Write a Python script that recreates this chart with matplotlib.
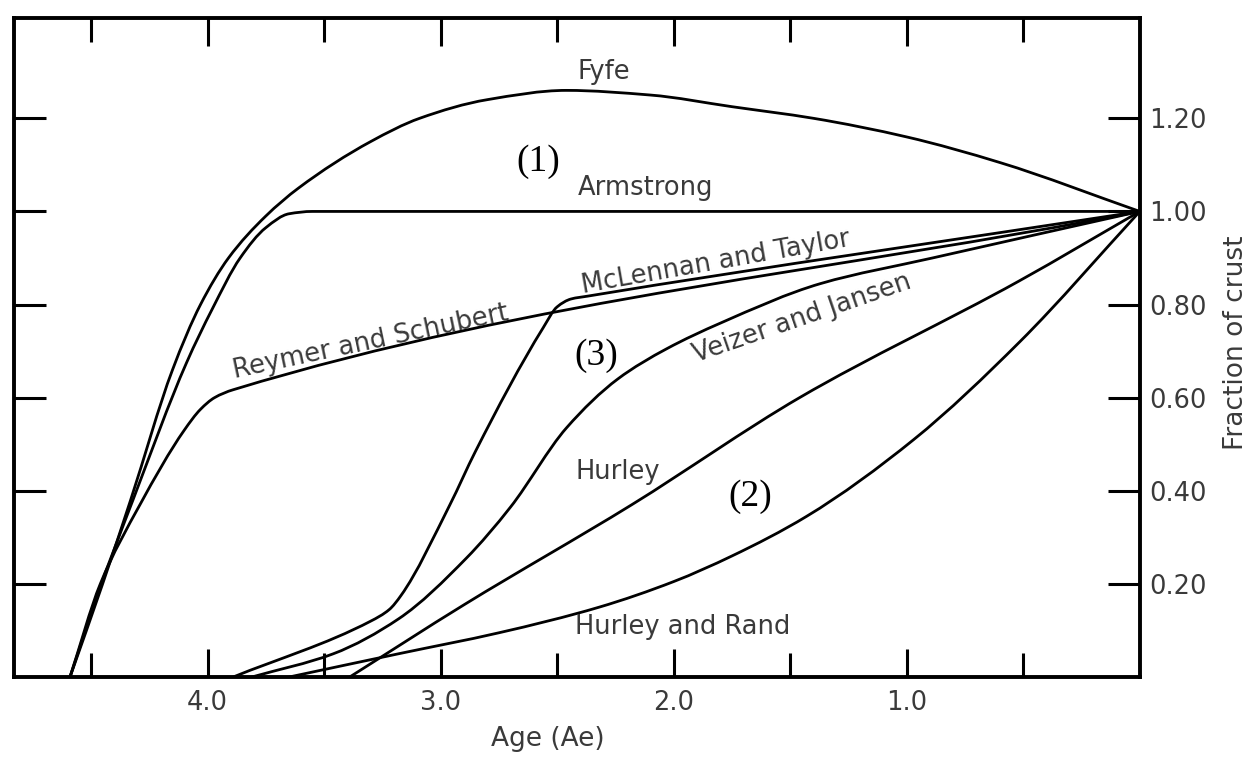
import matplotlib
matplotlib.use('Agg')
import matplotlib.pyplot as plt
import numpy as np
from matplotlib.path import Path
from matplotlib.patches import PathPatch
from matplotlib.ticker import FixedLocator

# crust growth models: age (Ae) and fraction of present crust
fyfe_age = [4.59, 4.45, 4.33, 4.15, 4.03, 3.91, 3.75, 3.61, 3.30, 3.09, 2.80, 2.46, 2.10, 1.75, 1.40, 1.00, 0.60, 0.0]
fyfe_frac = [0.0, 0.20, 0.38, 0.66, 0.80, 0.90, 0.99, 1.05, 1.15, 1.20, 1.24, 1.26, 1.25, 1.225, 1.20, 1.16, 1.105, 1.0]

armstrong_age = [4.59, 4.47, 4.32, 4.09, 3.98, 3.86, 3.75, 3.65, 3.55, 0.0]
armstrong_frac = [0.0, 0.18, 0.38, 0.675, 0.79, 0.90, 0.965, 0.995, 1.0, 1.0]

reymer_age = [4.59, 4.46, 4.29, 4.10, 4.03, 3.97, 3.89, 0.0]
reymer_frac = [0.0, 0.20, 0.37, 0.53, 0.575, 0.60, 0.617, 1.0]

mclennan_age = [3.89, 3.30, 3.22, 3.17, 2.96, 2.85, 2.56, 2.50, 2.44, 2.37, 0.0]
mclennan_frac = [0.0, 0.12, 0.145, 0.175, 0.37, 0.485, 0.75, 0.795, 0.812, 0.818, 1.0]

veizer_age = [3.81, 3.46, 3.18, 2.89, 2.70, 2.46, 2.24, 2.03, 1.80, 1.37, 0.89, 0.0]
veizer_frac = [0.0, 0.05, 0.125, 0.255, 0.365, 0.535, 0.64, 0.705, 0.76, 0.845, 0.90, 1.0]

hurley_age = [3.39, 2.90, 2.18, 1.46, 0.52, 0.0]
hurley_frac = [0.0, 0.155, 0.37, 0.60, 0.85, 1.0]

rand_age = [3.65, 3.18, 2.75, 2.32, 2.00, 1.75, 1.43, 0.97, 0.515, 0.0]
rand_frac = [0.0, 0.05, 0.095, 0.15, 0.205, 0.26, 0.345, 0.51, 0.72, 1.0]

ytick_vals = [0.2, 0.4, 0.6, 0.8, 1.0, 1.2]
ytick_labels = ['0.20', '0.40', '0.60', '0.80', '1.00', '1.20']
xtick_vals = [4.0, 3.0, 2.0, 1.0]
xtick_labels = ['4.0', '3.0', '2.0', '1.0']


def smooth_path(xs, ys):
    # monotone cubic (pchip) through the points, drawn as bezier segments
    x = np.asarray(xs, float)[::-1]
    y = np.asarray(ys, float)[::-1]
    h = np.diff(x)
    d = np.diff(y) / h
    n = len(x)
    m = np.zeros(n)
    m[0], m[-1] = d[0], d[-1]
    for k in range(1, n - 1):
        if d[k - 1] * d[k] > 0:
            w1 = 2 * h[k] + h[k - 1]
            w2 = h[k] + 2 * h[k - 1]
            m[k] = (w1 + w2) / (w1 / d[k - 1] + w2 / d[k])
    verts = [(x[0], y[0])]
    codes = [Path.MOVETO]
    for k in range(n - 1):
        verts += [(x[k] + h[k] / 3, y[k] + m[k] * h[k] / 3),
                  (x[k + 1] - h[k] / 3, y[k + 1] - m[k + 1] * h[k] / 3),
                  (x[k + 1], y[k + 1])]
        codes += [Path.CURVE4] * 3
    return Path(verts, codes)


txt = '#3a3a3a'
fig = plt.figure(figsize=(12.55, 7.59), dpi=100)
ax = fig.add_axes([0.0112, 0.108, 0.897, 0.868])

for a, f in [(fyfe_age, fyfe_frac), (armstrong_age, armstrong_frac),
             (reymer_age, reymer_frac), (mclennan_age, mclennan_frac),
             (veizer_age, veizer_frac), (hurley_age, hurley_frac),
             (rand_age, rand_frac)]:
    ax.add_patch(PathPatch(smooth_path(a, f), fill=False, edgecolor='black',
                           lw=2.0, joinstyle='round', capstyle='round'))

ax.set_xlim(4.83, 0)
ax.set_ylim(0, 1.415)

for s in ax.spines.values():
    s.set_linewidth(2.8)

ax.xaxis.set_major_locator(FixedLocator(xtick_vals))
ax.set_xticklabels(xtick_labels)
ax.xaxis.set_minor_locator(FixedLocator([4.5, 3.5, 2.5, 1.5, 0.5]))
ax.yaxis.set_major_locator(FixedLocator(ytick_vals))
ax.set_yticklabels(ytick_labels)

ax.tick_params(axis='x', which='both', direction='in', top=True, bottom=True,
               width=2.2, labelsize=18.5, labelcolor=txt, pad=9)
ax.tick_params(axis='x', which='major', length=20)
ax.tick_params(axis='x', which='minor', length=17)
ax.tick_params(axis='y', direction='in', left=True, right=True, labelleft=False,
               labelright=True, length=23, width=2.2, labelsize=18.5, labelcolor=txt, pad=7)

ax.set_xlabel('Age (Ae)', fontsize=19, color=txt)
ax.xaxis.set_label_coords(0.474, -0.075)
ax.yaxis.set_label_position('right')
ax.set_ylabel('Fraction of crust', fontsize=19, color=txt)
ax.yaxis.set_label_coords(1.074, 0.507)

fs = 18.5
ax.text(2.30, 1.30, 'Fyfe', fontsize=fs, color=txt, ha='center', va='center')
ax.text(2.12, 1.05, 'Armstrong', fontsize=fs, color=txt, ha='center', va='center')
ax.text(1.82, 0.89, 'McLennan and Taylor', fontsize=fs, color=txt, ha='center', va='center', rotation=10)
ax.text(3.30, 0.72, 'Reymer and Schubert', fontsize=fs, color=txt, ha='center', va='center', rotation=12)
ax.text(1.45, 0.77, 'Veizer and Jansen', fontsize=fs, color=txt, ha='center', va='center', rotation=19)
ax.text(2.24, 0.44, 'Hurley', fontsize=fs, color=txt, ha='center', va='center')
ax.text(1.96, 0.107, 'Hurley and Rand', fontsize=fs, color=txt, ha='center', va='center')

for xx, yy, s in [(2.58, 1.107, '(1)'), (2.33, 0.69, '(3)'), (1.67, 0.387, '(2)')]:
    ax.text(xx, yy, s, fontsize=27, family='Liberation Serif', color='black',
            ha='center', va='center')

fig.savefig('out.png', dpi=100)
